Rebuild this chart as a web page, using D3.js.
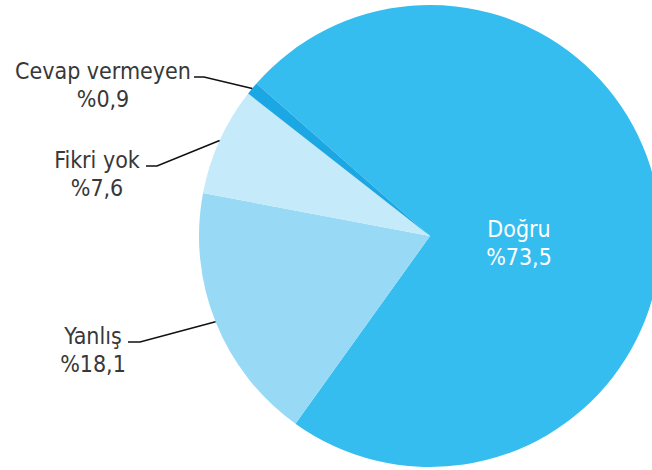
<!DOCTYPE html>
<html>
<head>
<meta charset="utf-8">
<script src="https://cdn.jsdelivr.net/npm/d3@7"></script>
<style>
  body { margin: 0; background: #fff; }
  text { font-family: "DejaVu Sans Condensed", "DejaVu Sans", Verdana, sans-serif; font-stretch: condensed; }
</style>
</head>
<body>
<svg id="chart" width="652" height="470"></svg>
<script>
// Survey answers, share of respondents (%)
const categories = ["Doğru", "Yanlış", "Fikri yok", "Cevap vermeyen"];
const values = [73.5, 18.1, 7.6, 0.9];
const valueLabels = ["%73,5", "%18,1", "%7,6", "%0,9"];
const colors = ["#35bdf0", "#98daf6", "#c5eafa", "#1ba7e3"];

// Label placement: the large slice is labelled inside, the others outside with a leader line
const labelLayout = [
  { inside: true, x: 519, y: 237 },
  { x: 93, y: 344, lineStart: 128, elbowX: 140 },
  { x: 97, y: 168, lineStart: 146, elbowX: 157 },
  { x: 103, y: 79, lineStart: 194, elbowX: 204 }
];

const width = 652, height = 470;
const cx = 430, cy = 236, radius = 231;
const startDeg = -48.7;

const svg = d3.select("#chart");
const g = svg.append("g").attr("transform", `translate(${cx},${cy})`);

const pie = d3.pie()
  .sort(null)
  .value(d => d)
  .startAngle(startDeg * Math.PI / 180)
  .endAngle(startDeg * Math.PI / 180 + 2 * Math.PI);

const arcs = pie(values);
const arc = d3.arc().innerRadius(0).outerRadius(radius);

g.selectAll("path.slice")
  .data(arcs)
  .join("path")
  .attr("class", "slice")
  .attr("d", arc)
  .attr("fill", (d, i) => colors[i]);

const lineHeight = 28;

arcs.forEach((a, i) => {
  const L = labelLayout[i];
  const t = svg.append("text")
    .attr("text-anchor", "middle")
    .attr("font-size", 23)
    .attr("fill", L.inside ? "#ffffff" : "#383838");
  t.append("tspan").attr("x", L.x).attr("y", L.y).text(categories[i]);
  t.append("tspan").attr("x", L.x).attr("y", L.y + lineHeight).text(valueLabels[i]);

  if (!L.inside) {
    const mid = (a.startAngle + a.endAngle) / 2;
    const px = cx + radius * Math.sin(mid);
    const py = cy - radius * Math.cos(mid);
    const ly = L.y - 2;
    svg.append("polyline")
      .attr("points", [[L.lineStart, ly], [L.elbowX, ly], [px, py]].map(p => p.join(",")).join(" "))
      .attr("fill", "none")
      .attr("stroke", "#111")
      .attr("stroke-width", 1.6);
  }
});
</script>
</body>
</html>
